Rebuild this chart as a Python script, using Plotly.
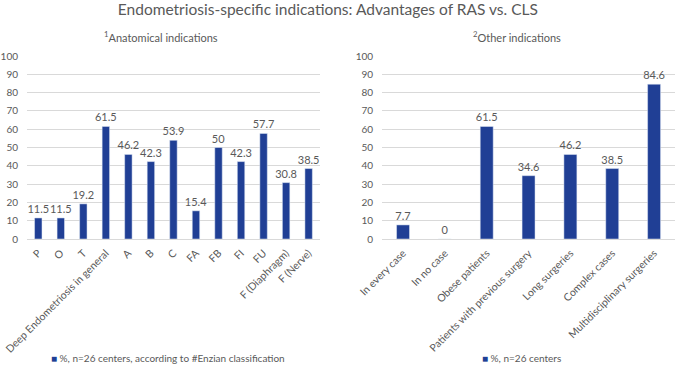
import plotly.graph_objects as go

left_categories = ["P", "O", "T", "Deep Endometriosis in general", "A", "B", "C",
                   "FA", "FB", "FI", "FU", "F (Diaphragm)", "F (Nerve)"]
left_values = [11.5, 11.5, 19.2, 61.5, 46.2, 42.3, 53.9, 15.4, 50, 42.3, 57.7, 30.8, 38.5]
left_series = "%, n=26 centers, according to #Enzian classification"

right_categories = ["In every case", "In no case", "Obese patients",
                    "Patients with previous surgery", "Long surgeries",
                    "Complex cases", "Multidisciplinary surgeries"]
right_values = [7.7, 0, 61.5, 34.6, 46.2, 38.5, 84.6]
right_series = "%, n=26 centers"

y_ticks = [0, 10, 20, 30, 40, 50, 60, 70, 80, 90, 100]

BAR = "#203F95"
TXT = "#595959"
GRID = "#D9D9D9"
FONT = "Lato"

fig = go.Figure()
fig.add_trace(go.Bar(
    x=left_categories, y=left_values, name=left_series,
    marker_color=BAR, width=0.33,
    text=[f"{v:g}" for v in left_values], textposition="outside",
    constraintext="none",
    textfont=dict(size=11, color=TXT), cliponaxis=False,
    xaxis="x", yaxis="y", showlegend=False,
))
fig.add_trace(go.Bar(
    x=right_categories, y=right_values, name=right_series,
    marker_color=BAR, width=0.31,
    text=[f"{v:g}" for v in right_values], textposition="outside",
    constraintext="none",
    textfont=dict(size=11, color=TXT), cliponaxis=False,
    xaxis="x2", yaxis="y2", showlegend=False,
))

axis_common = dict(tickangle=-45, tickfont=dict(size=10.5, color=TXT),
                   showline=True, linecolor=GRID, linewidth=1,
                   showgrid=False, ticks="outside", ticklen=3,
                   tickcolor="rgba(0,0,0,0)", automargin=False)
yaxis_common = dict(range=[0, 100], tickvals=y_ticks, showgrid=True,
                    gridcolor=GRID, gridwidth=1, zeroline=False,
                    tickfont=dict(size=10, color=TXT),
                    ticks="outside", ticklen=6, tickcolor="rgba(0,0,0,0)",
                    showline=False, automargin=False)

legend_y = (239 - 358) / 183

fig.update_layout(
    width=676, height=365,
    margin=dict(l=27, r=1, t=56, b=126),
    paper_bgcolor="white", plot_bgcolor="white",
    font=dict(family=FONT, color=TXT),
    showlegend=False,
    xaxis=dict(domain=[0, 0.452], anchor="y", **axis_common),
    yaxis=dict(domain=[0, 1], anchor="x", **yaxis_common),
    xaxis2=dict(domain=[0.548, 1.0], anchor="y2", **axis_common),
    yaxis2=dict(domain=[0, 1], anchor="x2", **yaxis_common),
    title=dict(text="Endometriosis-specific indications: Advantages of RAS vs. CLS",
               x=0.485, xref="container", xanchor="center",
               y=0.973, yref="container", yanchor="middle",
               font=dict(size=15.5, color=TXT, family=FONT)),
    annotations=[
        dict(text="<sup>1</sup>Anatomical indications", x=0.207, y=1.104,
             xref="paper", yref="paper", showarrow=False,
             xanchor="center", yanchor="middle",
             font=dict(size=11, color=TXT)),
        dict(text="<sup>2</sup>Other indications", x=0.756, y=1.104,
             xref="paper", yref="paper", showarrow=False,
             xanchor="center", yanchor="middle",
             font=dict(size=11, color=TXT)),
        dict(text=f"<span style='color:{BAR}'>■</span> {left_series}",
             x=(49 - 27) / 648, y=legend_y, xref="paper", yref="paper",
             showarrow=False, xanchor="left", yanchor="middle",
             font=dict(size=10, color=TXT)),
        dict(text=f"<span style='color:{BAR}'>■</span> {right_series}",
             x=(480 - 27) / 648, y=legend_y, xref="paper", yref="paper",
             showarrow=False, xanchor="left", yanchor="middle",
             font=dict(size=10, color=TXT)),
    ],
)

fig.write_html("out.html", config={"displayModeBar": False},
               post_script="document.body.style.margin='0';")
